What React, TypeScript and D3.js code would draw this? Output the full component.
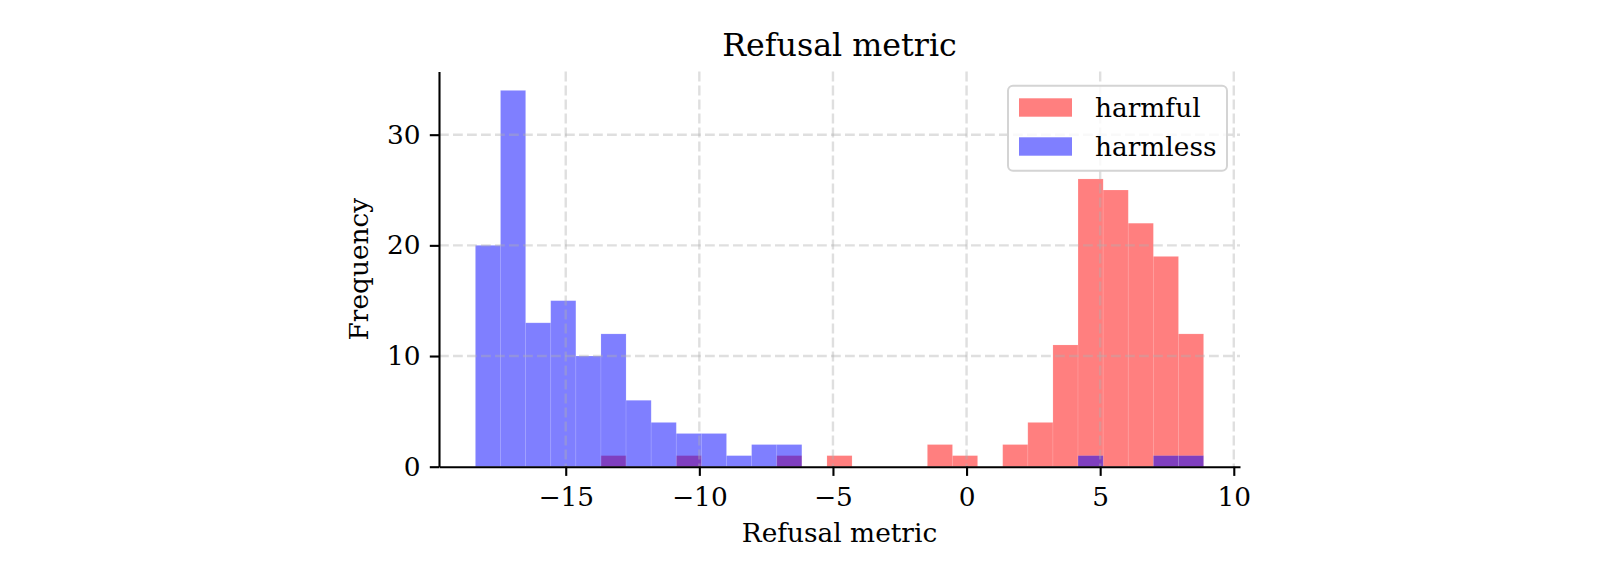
import React, { useEffect, useRef } from "react";
import * as d3 from "d3";

// histogram bins shared by both series
const binLow = -18.38;
const binHigh = 8.87;
const binCount = 29;

const harmfulCounts = [
  0, 0, 0, 0, 0, 1, 0, 0, 1, 0, 0, 0, 1, 0, 1, 0, 0, 0, 2, 1, 0, 2, 4, 11, 26,
  25, 22, 19, 12,
];
const harmlessCounts = [
  20, 34, 13, 15, 10, 12, 6, 4, 3, 3, 1, 2, 2, 0, 0, 0, 0, 0, 0, 0, 0, 0, 0, 0,
  1, 0, 0, 1, 1,
];

const seriesNames = ["harmful", "harmless"];
const seriesColors = ["#ff0000", "#0000ff"];
const xTicks = [-15, -10, -5, 0, 5, 10];
const yTicks = [0, 10, 20, 30];

const W = 1600;
const H = 580;
const FONT = "DejaVu Serif, serif";
const FS = 26.4;

const App = () => {
  const ref = useRef<SVGSVGElement>(null);

  useEffect(() => {
    const svg = d3.select(ref.current);
    svg.selectAll("*").remove();

    const left = 439;
    const right = 1240;
    const top = 71.6;
    const bottom = 466.7;

    const span = binHigh - binLow;
    const binW = span / binCount;
    const edges = d3.range(binCount + 1).map((i) => binLow + i * binW);

    const x = d3
      .scaleLinear()
      .domain([binLow - 0.05 * span, binHigh + 0.05 * span])
      .range([left, right]);

    const yMax = d3.max([...harmfulCounts, ...harmlessCounts]) * 1.05;
    const y = d3.scaleLinear().domain([0, yMax]).range([bottom, top]);

    svg.append("rect").attr("width", W).attr("height", H).attr("fill", "#fff");

    // bars: harmful first, harmless drawn over it
    [harmfulCounts, harmlessCounts].forEach((counts, s) => {
      svg
        .append("g")
        .selectAll("rect")
        .data(counts.map((c, i) => ({ c, i })).filter((d) => d.c > 0))
        .join("rect")
        .attr("x", (d) => x(edges[d.i]))
        .attr("width", (d) => x(edges[d.i + 1]) - x(edges[d.i]))
        .attr("y", (d) => y(d.c))
        .attr("height", (d) => y(0) - y(d.c))
        .attr("fill", seriesColors[s])
        .attr("fill-opacity", 0.5)
        .attr("stroke", "#fff")
        .attr("stroke-opacity", 0.15)
        .attr("stroke-width", 0.8);
    });

    // dashed grid
    const grid = svg
      .append("g")
      .attr("stroke", "#b0b0b0")
      .attr("stroke-opacity", 0.4)
      .attr("stroke-width", 2.4)
      .attr("stroke-dasharray", "9.8,4.2");
    grid
      .selectAll("line.v")
      .data(xTicks)
      .join("line")
      .attr("class", "v")
      .attr("x1", (d) => x(d))
      .attr("x2", (d) => x(d))
      .attr("y1", top)
      .attr("y2", bottom);
    grid
      .selectAll("line.h")
      .data(yTicks.filter((d) => d > 0))
      .join("line")
      .attr("class", "h")
      .attr("x1", left)
      .attr("x2", right)
      .attr("y1", (d) => y(d))
      .attr("y2", (d) => y(d));

    // axes
    const xAxis = svg
      .append("g")
      .attr("transform", `translate(0,${bottom})`)
      .call(
        d3
          .axisBottom(x)
          .tickValues(xTicks)
          .tickFormat(d3.format("d"))
          .tickSize(9.2)
          .tickSizeOuter(0)
          .tickPadding(11)
      );
    const yAxis = svg
      .append("g")
      .attr("transform", `translate(${left},0)`)
      .call(
        d3
          .axisLeft(y)
          .tickValues(yTicks)
          .tickFormat(d3.format("d"))
          .tickSize(9.2)
          .tickSizeOuter(0)
          .tickPadding(9.2)
      );
    [xAxis, yAxis].forEach((g) => {
      g.select(".domain").attr("stroke", "#000").attr("stroke-width", 2.1);
      g.selectAll(".tick line").attr("stroke", "#000").attr("stroke-width", 2.1);
      g.selectAll(".tick text")
        .attr("fill", "#000")
        .style("font-family", FONT)
        .style("font-size", `${FS}px`);
    });

    // title and labels
    svg
      .append("text")
      .attr("x", (left + right) / 2)
      .attr("y", 55.7)
      .attr("text-anchor", "middle")
      .style("font-family", FONT)
      .style("font-size", "31.7px")
      .text("Refusal metric");
    svg
      .append("text")
      .attr("x", (left + right) / 2)
      .attr("y", 541.7)
      .attr("text-anchor", "middle")
      .style("font-family", FONT)
      .style("font-size", `${FS}px`)
      .text("Refusal metric");
    svg
      .append("text")
      .attr("transform", `translate(368,${(top + bottom) / 2}) rotate(-90)`)
      .attr("text-anchor", "middle")
      .style("font-family", FONT)
      .style("font-size", `${FS}px`)
      .text("Frequency");

    // legend
    const lg = svg.append("g").attr("transform", "translate(1008,85.7)");
    lg.append("rect")
      .attr("width", 219)
      .attr("height", 85)
      .attr("rx", 5)
      .attr("fill", "#fff")
      .attr("fill-opacity", 0.8)
      .attr("stroke", "#d4d4d4")
      .attr("stroke-width", 2);
    seriesNames.forEach((name, i) => {
      lg.append("rect")
        .attr("x", 11)
        .attr("y", 12.6 + i * 39)
        .attr("width", 53)
        .attr("height", 18.4)
        .attr("fill", seriesColors[i])
        .attr("fill-opacity", 0.5);
      lg.append("text")
        .attr("x", 87)
        .attr("y", 31 + i * 39)
        .style("font-family", FONT)
        .style("font-size", `${FS}px`)
        .text(name);
    });
  }, []);

  return (
    <svg
      ref={ref}
      width={W}
      height={H}
      style={{ position: "absolute", left: 0, top: 0 }}
    ></svg>
  );
};

export default App;
